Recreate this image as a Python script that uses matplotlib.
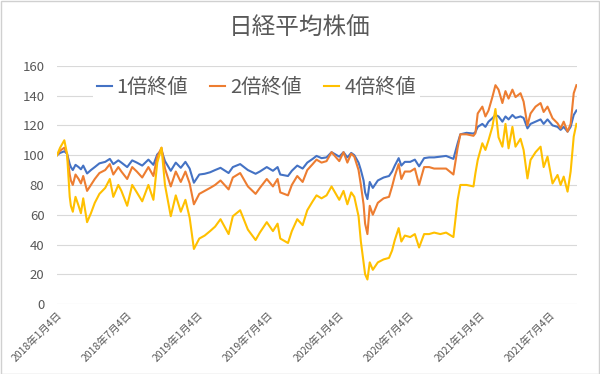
import pandas as pd
import matplotlib
matplotlib.use("Agg")
import matplotlib.pyplot as plt
import matplotlib.patches as patches

plt.rcParams['font.family'] = ['Noto Sans CJK JP', 'DejaVu Sans']

# data (normalised so 2018-01-04 = 100)
dates = [
    "2018-01-04", "2018-01-12", "2018-01-23", "2018-01-30", "2018-02-06", "2018-02-09",
    "2018-02-14", "2018-02-21", "2018-03-01", "2018-03-07", "2018-03-13", "2018-03-23",
    "2018-04-02", "2018-04-12", "2018-04-24", "2018-05-09", "2018-05-21", "2018-05-30",
    "2018-06-12", "2018-06-20", "2018-07-05", "2018-07-18", "2018-07-30", "2018-08-13",
    "2018-08-29", "2018-09-11", "2018-09-21", "2018-10-02", "2018-10-11", "2018-10-26",
    "2018-11-08", "2018-11-21", "2018-12-03", "2018-12-14", "2018-12-25", "2019-01-08",
    "2019-01-22", "2019-02-05", "2019-02-18", "2019-03-04", "2019-03-25", "2019-04-05",
    "2019-04-24", "2019-05-14", "2019-06-03", "2019-06-14", "2019-07-02", "2019-07-18",
    "2019-07-30", "2019-08-06", "2019-08-26", "2019-09-05", "2019-09-19", "2019-10-03",
    "2019-10-15", "2019-10-29", "2019-11-08", "2019-11-21", "2019-12-04", "2019-12-17",
    "2020-01-06", "2020-01-17", "2020-01-27", "2020-02-06", "2020-02-14", "2020-02-25",
    "2020-03-02", "2020-03-09", "2020-03-13", "2020-03-19", "2020-03-25", "2020-04-02",
    "2020-04-15", "2020-04-30", "2020-05-14", "2020-05-22", "2020-05-29", "2020-06-08",
    "2020-06-15", "2020-06-24", "2020-07-08", "2020-07-20", "2020-07-31", "2020-08-13",
    "2020-08-26", "2020-09-08", "2020-09-24", "2020-10-09", "2020-10-28", "2020-11-08",
    "2020-11-15", "2020-12-01", "2020-12-19", "2020-12-24", "2020-12-30", "2021-01-11",
    "2021-01-19", "2021-01-27", "2021-02-06", "2021-02-14", "2021-02-22", "2021-03-04",
    "2021-03-12", "2021-03-20", "2021-03-30", "2021-04-07", "2021-04-20", "2021-04-28",
    "2021-05-08", "2021-05-16", "2021-05-29", "2021-06-11", "2021-06-19", "2021-06-29",
    "2021-07-12", "2021-07-25", "2021-08-02", "2021-08-10", "2021-08-20", "2021-08-28",
    "2021-09-05", "2021-09-12",
]

x1 = [
    100, 101.5, 102.6, 101, 94, 92,
    90, 93.5, 92, 90.5, 93, 87.7,
    90, 92, 94.5, 95.5, 97.5, 94,
    96.5, 95, 92, 96.5, 95, 93,
    97, 93.5, 100.5, 103.2, 96, 89.5,
    95, 91.5, 95.5, 91, 81.5, 87,
    87.5, 88.5, 90, 91.5, 88, 92,
    94, 90, 87.5, 89, 92, 89.5,
    92, 87, 86, 89.5, 93, 91,
    95, 97.5, 99.5, 98, 98.5, 102,
    99, 102, 98.5, 101.5, 100, 95,
    90, 83, 75, 70.5, 82, 78,
    83, 85, 86, 89, 93, 98,
    93, 95.5, 95.5, 97, 92.5, 98,
    98.5, 98.5, 99, 99.5, 97.5, 108,
    114, 115, 114.5, 115.5, 119, 121,
    119, 122.5, 124.8, 127, 126, 122.5,
    126, 124, 127, 125, 126, 125,
    118, 121, 122.5, 124, 121, 124,
    120, 119, 117, 119, 115.8, 119,
    127, 130,
]

x2 = [
    100, 103, 105, 101, 87, 83,
    80, 87, 84, 81, 86, 76,
    80, 84, 88, 90, 94, 87,
    92, 89, 84, 92, 89, 85,
    92, 86, 99, 105, 91, 79,
    89, 82, 89, 81, 67, 74,
    76, 78, 80, 83, 77, 85,
    88, 79, 74, 78, 84, 79,
    84, 75, 73, 80, 86, 82,
    90, 94, 97, 95, 96, 102,
    96, 102, 95, 101, 99, 90,
    80, 67, 54, 47, 66, 60,
    68, 71, 72, 79, 86, 94,
    84, 89, 89, 91, 80, 92,
    92, 91, 91, 91, 87, 105,
    114, 114, 113, 114.7, 128, 132.6,
    126, 130, 139, 147, 144, 135,
    143, 138, 144, 139, 141.6, 136,
    120, 128, 132.6, 135, 129, 132.6,
    124.8, 121.4, 118, 122.5, 115.8, 121,
    141.6, 147,
]

x4 = [
    100, 105, 110, 101, 72, 66,
    62, 72, 66, 61, 71, 55,
    61, 68, 74, 78, 84, 72,
    80, 76, 66, 80, 75, 69,
    80, 70, 95, 105, 80, 59,
    73, 62, 70, 58, 37, 44,
    46, 49, 52, 57, 47, 59,
    63, 50, 43, 48, 55, 49,
    54, 44, 41, 49, 57, 53,
    63, 69, 73, 71, 73, 79,
    70, 76, 67, 75, 72, 59,
    42, 28, 20, 16.5, 28, 23,
    28, 30, 31, 36, 43, 51,
    42, 46, 45, 47, 38, 47,
    47, 48, 47, 48, 45, 70,
    80, 80, 79, 87.8, 96.7, 108,
    103.5, 110, 119, 131, 112, 105.7,
    121, 104.6, 119, 105.7, 111, 103.5,
    84.4, 96.8, 102, 105.7, 92, 99,
    81, 86.7, 80, 85.6, 75.5, 89,
    112.5, 121,
]

labels = ["1倍終値", "2倍終値", "4倍終値"]
colors = ["#4472C4", "#ED7D31", "#FFC000"]
tick_dates = ["2018-01-04", "2018-07-04", "2019-01-04", "2019-07-04",
              "2020-01-04", "2020-07-04", "2021-01-04", "2021-07-04"]

d = pd.to_datetime(dates)
ticks = pd.to_datetime(tick_dates)

fig = plt.figure(figsize=(6, 3.74), dpi=100)
ax = fig.add_axes([0.095, 0.187, 0.867, 0.637])

for series, lab, col in zip([x1, x2, x4], labels, colors):
    ax.plot(d, series, color=col, lw=1.5, label=lab, solid_joinstyle='round')

ax.set_ylim(0, 160)
ax.set_yticks(range(0, 161, 20))
ax.set_xlim(d[0], d[-1] + pd.Timedelta(days=2))
ax.set_xticks(ticks)
ax.set_xticklabels([f"{t.year}年{t.month}月{t.day}日" for t in ticks],
                   rotation=45, ha='right', rotation_mode='anchor')
ax.grid(axis='y', color='#d9d9d9', lw=0.8)
ax.set_axisbelow(True)
for s in ax.spines.values():
    s.set_visible(False)
ax.tick_params(axis='y', length=0, pad=9, labelsize=9.5, labelcolor='#595959')
ax.tick_params(axis='x', length=0, pad=4, labelsize=7.5, labelcolor='#595959')

leg = ax.legend(loc='center', bbox_to_anchor=(0.427, 0.765), bbox_transform=fig.transFigure,
                ncol=3, fontsize=14.5, handlelength=0.75, handletextpad=0.25,
                columnspacing=1.1, frameon=True, borderpad=0.2)
leg.get_frame().set_edgecolor('none')
leg.get_frame().set_facecolor('white')
leg.get_frame().set_alpha(1)
for t in leg.get_texts():
    t.set_color('#595959')

fig.text(0.5, 1 - 28 / 374, "日経平均株価", ha='center', va='center',
         fontsize=17, color='#595959')

fig.patches.append(patches.Rectangle((0.001, 0.001), 0.997, 0.996, transform=fig.transFigure,
                                     fill=False, edgecolor='#d0d0d0', lw=1))

fig.savefig("out.png", dpi=100)
